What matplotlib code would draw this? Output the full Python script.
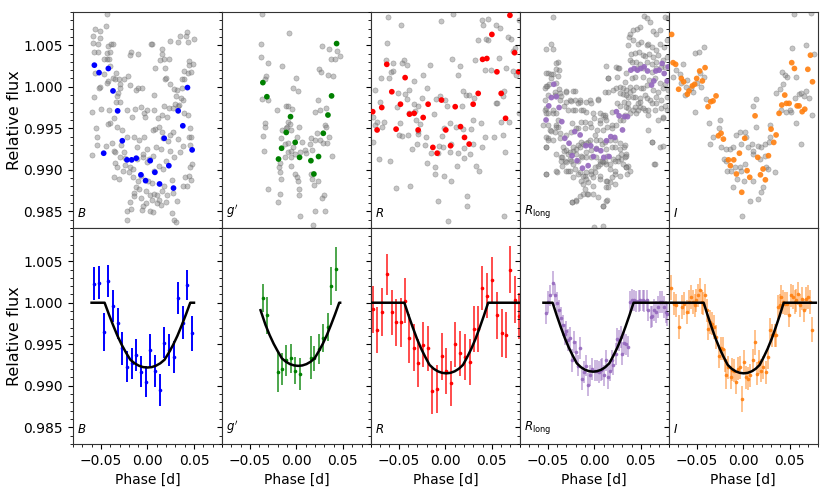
import matplotlib
matplotlib.use("Agg")
import matplotlib.pyplot as plt
from matplotlib.ticker import MultipleLocator, FormatStrFormatter

# ---------------- data: top row (raw gray points + coloured binned points) ----------------
B_gray = [(-0.043,1.0087),(-0.044,1.0073),(-0.056,1.0070),(-0.051,1.0067),(-0.059,1.0061),(-0.0586,1.0053),(-0.0536,1.0052),(-0.0511,1.0059),(-0.0421,1.0049),(-0.0392,1.0052),(-0.0375,1.0052),(-0.0529,1.0042),(-0.0579,1.0042),(-0.0439,1.0041),(-0.0403,1.0042),(-0.0439,1.0033),(-0.041,1.0033),(-0.0464,1.0033),(-0.040,1.0025),(-0.0561,1.0017),(-0.0468,1.0015),(-0.0339,1.0016),(-0.0371,1.0011),(-0.0346,1.0009),(-0.0303,1.0009),(-0.0253,1.0009),(-0.021,1.0013),(-0.0428,1.0007),(-0.0511,1.0000),(-0.0518,0.9999),(-0.0439,1.0005),(-0.0292,1.0003),(-0.0296,0.9998),(-0.0314,0.9993),(-0.0328,0.9989),(-0.0342,0.9982),(-0.0572,0.9988),(-0.060,0.9970),(-0.0504,0.9973),(-0.0418,0.9972),(-0.0296,0.9982),(-0.0224,0.9972),(-0.0131,0.9973),(-0.0167,0.9964),(-0.0038,0.9969),(-0.0357,0.9962),(-0.0407,0.9956),(-0.0421,0.9955),(-0.0332,0.9952),(-0.0278,0.9948),(-0.055,0.9950),(-0.0539,0.9940),(-0.0539,0.9930),(-0.0593,0.9918),(-0.0443,0.9929),(-0.0382,0.9932),(-0.0357,0.9923),(-0.0346,0.9921),(-0.0289,0.9930),(-0.0224,0.9939),(-0.0149,0.9939),(-0.0088,0.9936),(-0.0038,0.9940),(-0.0116,0.9928),(-0.0253,0.9922),(-0.0238,0.9914),(-0.0296,0.9915),(-0.0242,0.9906),(-0.0192,0.9904),(-0.0109,0.9913),(-0.0045,0.9916),(-0.0005,0.9910),(-0.0349,0.9908),(-0.0328,0.9903),(-0.036,0.9891),(-0.031,0.9889),(-0.0263,0.9899),(-0.0203,0.9897),(-0.0159,0.9901),(-0.0152,0.9891),(-0.0106,0.9887),(-0.0066,0.9893),(-0.0124,0.9879),(-0.0149,0.9872),(-0.0088,0.9877),(-0.002,0.9875),(0.0027,0.9870),(0.007,0.9871),(0.0106,0.9870),(0.012,0.9864),(0.0048,0.9864),(-0.0013,0.9860),(-0.007,0.9866),(-0.0149,0.9869),(-0.0192,0.9861),(-0.022,0.9851),(-0.0177,0.9853),(-0.0217,0.9840),(-0.0052,0.9856),(-0.0059,0.9852),(0.0027,0.9851),(0.0063,0.9849),(0.0106,0.9860),(0.0149,0.9858),(0.0195,0.9861),(0.0213,0.9870),(0.0274,0.9872),(0.0317,0.9862),(0.0263,0.9848),(0.0281,0.9840),(0.0306,0.9837),(0.016,0.9875),(0.0181,0.9881),(0.0263,0.9888),(0.0048,0.9884),(0.0005,0.9887),(0.0073,0.9899),(0.012,0.9905),(0.017,0.9901),(0.0199,0.9911),(0.0281,0.9915),(0.0246,0.9923),(0.0142,0.9925),(0.0088,0.9927),(0.0056,0.9917),(0.0013,0.9913),(-0.0002,0.9925),(-0.0045,0.9919),(-0.0027,0.9964),(-0.0073,0.9976),(-0.0005,0.9972),(0.007,0.9972),(0.0077,0.9949),(0.0127,0.9951),(0.0159,0.9946),(0.0167,0.9938),(0.022,0.9935),(0.0271,0.9946),(0.0242,0.9942),(0.0109,0.9962),(0.0152,0.9966),(0.0177,0.9977),(0.0213,0.9964),(0.0228,0.9974),(0.0274,0.9975),(0.0324,0.9977),(0.0339,0.9978),(0.0378,0.9984),(0.0357,0.9987),(0.0292,0.9979),(0.0314,0.9996),(0.0289,0.9997),(0.0367,0.9999),(0.0392,1.0009),(0.0375,1.0009),(0.0396,1.0019),(0.0439,1.0016),(0.045,1.0026),(0.0468,1.0018),(0.0486,1.0027),(0.0443,1.0031),(0.0414,1.0061),(0.0353,1.0061),(0.0421,1.0066),(0.0332,1.0054),(0.0432,1.0054),(0.0496,1.0058),(0.0238,1.0055),(0.0231,1.0034),(0.0177,1.0033),(0.0134,1.0032),(0.0084,1.0023),(0.0192,1.0022),(0.0192,1.0009),(0.0159,1.0040),(0.0156,1.0046),(0.0048,1.0051),(0.0203,1.0011),(0.0246,1.0003),(0.0303,0.9989),(0.0389,0.9968),(0.0439,0.9966),(0.0453,0.9950),(0.045,0.9940),(0.0464,0.9940),(0.0461,0.9930),(0.0478,0.9907),(0.0453,0.9903),(0.045,0.9892),(0.0468,0.9888),(0.0428,0.9881),(0.0403,0.9891),(0.0378,0.9880),(0.0353,0.9922),(0.0382,0.9929),(0.0332,0.9937),(-0.0099,0.9999),(-0.0127,0.9996),(-0.0056,0.9998),(0.007,0.9990),(0.0059,0.9948),(-0.0181,1.0042),(-0.0192,1.0038),(-0.0099,1.0039),(0.0038,1.0052),(-0.0192,1.0002)]

g_gray = [(-0.0364,1.0088),(-0.0081,1.0065),(-0.0375,1.0052),(-0.0378,1.0036),(-0.0303,1.0029),(-0.0156,1.0025),(-0.0328,1.0013),(-0.0335,1.0009),(-0.0002,1.0011),(-0.0034,0.9999),(0.0016,0.9995),(-0.0364,0.9985),(-0.0306,0.9984),(-0.0203,0.9972),(-0.0113,0.9977),(-0.0088,0.9977),(-0.0052,0.9973),(-0.0091,0.9957),(-0.007,0.9955),(-0.0099,0.9952),(-0.0159,0.9948),(-0.0113,0.9950),(0.0027,0.9952),(-0.0059,0.9948),(-0.0342,0.9956),(-0.0335,0.9952),(-0.0357,0.9941),(-0.0353,0.9923),(-0.0163,0.9938),(-0.0124,0.9931),(-0.0088,0.9932),(0.0002,0.9940),(-0.0038,0.9927),(0.0038,0.9922),(-0.0013,0.9919),(-0.0095,0.9922),(-0.0063,0.9916),(-0.0177,0.9908),(-0.012,0.9915),(-0.0056,0.9905),(-0.0192,0.9904),(-0.0181,0.9897),(-0.0167,0.9889),(-0.0306,0.9877),(-0.0177,0.9871),(-0.0199,0.9861),(-0.0013,0.9895),(0.0002,0.9891),(0.0013,0.9886),(0.0023,0.9877),(0.003,0.9870),(0.0041,0.9845),(0.0152,0.9895),(0.0167,0.9889),(0.0192,0.9882),(0.0231,0.9887),(0.0296,0.9870),(0.0274,0.9866),(0.0199,0.9850),(0.0306,0.9850),(0.0181,0.9834),(0.0145,0.9931),(0.017,0.9924),(0.0156,0.9938),(0.0203,0.9936),(0.0224,0.9944),(0.0253,0.9936),(0.0303,0.9954),(0.0317,0.9951),(0.0289,0.9932),(0.0324,0.9932),(0.0346,0.9940),(0.0378,0.9917),(0.0203,0.9970),(0.0249,0.9972),(0.0317,0.9974),(0.0231,0.9984),(0.0339,1.0014),(0.0389,1.0013),(0.0246,1.0021),(0.0263,1.0018),(0.0371,1.0034),(0.0418,1.0034),(0.0464,1.0037),(0.0435,1.0043),(0.0278,1.0049),(0.0353,1.0045),(0.0102,0.9920),(0.0088,0.9924),(0.0056,0.9933),(-0.0063,0.9923)]

R_gray = [(-0.0618,1.0084),(-0.0471,1.0074),(-0.0048,1.0079),(0.0084,1.0088),(0.0396,1.0080),(0.0453,1.0082),(0.0407,1.0074),(0.0547,1.0074),(0.0586,1.0071),(0.0787,1.0080),(-0.0629,1.0053),(0.0349,1.0056),(0.0435,1.0058),(0.0461,1.0056),(0.0668,1.0060),(0.0704,1.0058),(0.0747,1.0047),(0.0729,1.0043),(-0.064,1.0032),(-0.0565,1.0029),(-0.0446,1.0032),(-0.0461,1.0029),(-0.0407,1.0026),(-0.0163,1.0026),(0.0073,1.0033),(0.0159,1.0025),(0.0321,1.0032),(0.0572,1.0035),(0.0421,1.0020),(0.0493,1.0020),(0.0654,1.0022),(0.0722,1.0019),(0.0762,1.0014),(-0.0586,1.0018),(-0.0557,1.0019),(-0.0604,1.0010),(-0.069,1.0010),(-0.0335,1.0007),(-0.0235,1.0014),(0.0131,1.0014),(-0.0758,0.9996),(-0.0385,0.9996),(-0.0428,0.9991),(-0.0414,0.9985),(-0.0507,0.9993),(-0.0199,0.9998),(-0.0249,0.9986),(-0.0095,0.9985),(-0.0056,0.9989),(-0.0005,0.9984),(0.0023,0.9977),(0.0188,0.9995),(0.022,0.9990),(0.0253,0.9990),(0.0306,0.9987),(0.0177,0.9977),(0.0625,0.9995),(0.0539,0.9981),(0.0557,0.9981),(0.0618,0.9989),(0.079,0.9969),(-0.0697,0.9982),(-0.0514,0.9976),(-0.0339,0.9979),(-0.0292,0.9977),(-0.0392,0.9968),(-0.0317,0.9960),(-0.0124,0.9967),(-0.0772,0.9964),(-0.0737,0.9958),(-0.0658,0.9957),(-0.0751,0.9954),(-0.0676,0.9951),(-0.0482,0.9956),(-0.0274,0.9955),(-0.0289,0.9943),(-0.0292,0.9947),(-0.021,0.9939),(-0.040,0.9942),(-0.0496,0.9942),(-0.0461,0.9941),(-0.078,0.9934),(-0.0306,0.9931),(-0.022,0.9930),(-0.0357,0.9925),(-0.0073,0.9929),(-0.0027,0.9928),(-0.0034,0.9941),(0.0116,0.9951),(0.0045,0.9956),(0.0188,0.9949),(0.0271,0.9949),(0.0203,0.9926),(0.0292,0.9960),(0.0382,0.9956),(0.0425,0.9940),(0.0525,0.9939),(0.0593,0.9958),(0.0618,0.9942),(0.0683,0.9958),(0.0636,0.9921),(0.0131,0.9920),(0.0052,0.9922),(-0.0195,0.9908),(-0.0109,0.9903),(-0.0156,0.9920),(-0.0077,0.9920),(0.0124,0.9905),(0.0199,0.9914),(0.0267,0.9919),(0.0332,0.9905),(0.0357,0.9899),(-0.0711,0.9913),(-0.0593,0.9911),(-0.0532,0.9878),(-0.0382,0.9881),(-0.0116,0.9895),(-0.0013,0.9892),(0.0063,0.9887),(-0.0084,0.9862),(0.0238,0.9868),(0.0228,0.9857),(0.0034,0.9838),(0.0633,0.9844),(0.0299,0.9931),(0.0396,0.9927),(-0.0328,0.9971),(-0.0013,0.9950),(0.0059,0.9931)]

Rl_gray = [(-0.0443,1.0084),(-0.0468,1.0052),(-0.0514,1.0045),(-0.0439,1.0045),(-0.0389,1.0030),(-0.041,1.0029),(-0.0378,1.0020),(-0.0496,1.0016),(-0.0443,1.0015),(-0.0461,1.0011),(-0.0507,1.0001),(-0.0525,0.9998),(-0.0407,1.0004),(-0.0378,0.9997),(-0.0299,0.9995),(-0.021,0.9995),(-0.0256,0.9984),(-0.021,0.9984),(-0.0156,0.9984),(-0.0084,0.9982),(-0.0048,0.9984),(0.0041,0.9985),(0.0124,1.0025),(0.0152,1.0010),(0.0238,1.0024),(0.026,1.0022),(-0.0496,0.9990),(-0.0425,0.9990),(-0.0532,0.9984),(-0.0371,0.9984),(-0.0328,0.9977),(-0.0281,0.9972),(-0.0228,0.9972),(-0.0138,0.9972),(-0.0084,0.9970),(-0.0013,0.9968),(0.0059,0.9968),(0.0095,0.9966),(0.012,0.9964),(-0.0532,0.9972),(-0.0514,0.9968),(-0.0443,0.9968),(-0.055,0.9954),(-0.0496,0.9954),(-0.0407,0.9954),(-0.0389,0.9952),(-0.0478,0.9948),(-0.0425,0.9946),(-0.0496,0.9938),(-0.0514,0.9928),(-0.0443,0.9936),(-0.0371,0.9944),(-0.0299,0.9942),(-0.0246,0.9946),(-0.0174,0.9950),(-0.0102,0.9950),(-0.003,0.9952),(0.0059,0.9956),(0.0131,0.9960),(0.0185,0.9954),(0.0246,0.9980),(0.0281,0.9977),(0.0317,0.9982),(0.0364,0.9975),(0.0382,0.9968),(0.0435,0.9976),(0.0453,0.9968),(0.0489,0.9976),(0.0543,0.9972),(0.0579,0.9966),(0.0661,0.9980),(0.0722,0.9975),(0.074,0.9962),(0.0615,0.9934),(0.064,0.9907),(0.0704,0.9927),(0.074,0.9929),(-0.0407,0.9919),(-0.0353,0.9915),(-0.0328,0.9923),(-0.0281,0.9919),(-0.0256,0.9913),(-0.0228,0.9923),(-0.0199,0.9925),(-0.0156,0.9927),(-0.012,0.9931),(-0.0066,0.9934),(0.0023,0.9936),(0.0059,0.9936),(0.0088,0.9931),(0.0131,0.9925),(0.0185,0.9927),(0.022,0.9927),(0.0274,0.9925),(0.0317,0.9927),(0.0346,0.9919),(0.0328,0.9915),(0.0289,0.9913),(0.0256,0.9911),(0.0203,0.9913),(0.0131,0.9907),(0.0059,0.9911),(0.0023,0.9915),(-0.003,0.9915),(-0.0084,0.9915),(-0.0138,0.9917),(-0.0192,0.9919),(-0.0246,0.9911),(-0.0317,0.9911),(-0.0342,0.9905),(-0.0299,0.9899),(-0.0256,0.9899),(-0.021,0.9901),(-0.0156,0.9897),(-0.0102,0.9893),(-0.003,0.9895),(0.0005,0.9897),(0.0041,0.9905),(0.0095,0.9909),(0.0167,0.9901),(0.022,0.9895),(0.0274,0.9893),(0.031,0.9907),(0.0353,0.9895),(0.0382,0.9899),(0.0364,0.9905),(-0.0138,0.9887),(-0.0066,0.9885),(-0.0013,0.9881),(0.0059,0.9889),(0.0131,0.9887),(0.0167,0.9885),(0.0131,0.9879),(-0.0013,0.9871),(-0.0077,0.9871),(0.0041,0.9867),(-0.0235,0.9861),(-0.0192,0.9864),(0.0131,0.9863),(0.0095,0.9857),(0.022,0.9883),(-0.0521,0.9895),(-0.040,0.9897),(-0.0005,0.9831),(0.0095,0.9832),(0.0346,0.9903),
           (0.0375,1.0060),(0.0382,1.0064),(0.0418,1.0068),(0.0464,1.0070),(0.0489,1.0072),(0.0532,1.0085),(0.0561,1.0083),(0.0597,1.0078),(0.0633,1.0067),(0.0661,1.0064),(0.0704,1.0068),(0.0765,1.0084),(0.0787,1.0083),(0.0364,1.0050),(0.0418,1.0056),(0.0471,1.0052),(0.0507,1.0054),(0.0561,1.0050),(0.0579,1.0052),(0.0615,1.0048),(0.0668,1.0044),(0.0704,1.0052),(0.0747,1.0048),(0.0776,1.0056),(0.0392,1.0040),(0.0435,1.0041),(0.0482,1.0042),(0.0518,1.0038),(0.0543,1.0037),(0.0589,1.0040),(0.0633,1.0036),(0.0686,1.0038),(0.074,1.0032),(0.0776,1.0036),(0.0382,1.0032),(0.0453,1.0030),(0.0489,1.0028),(0.0561,1.0030),(0.0615,1.0028),(0.0668,1.0030),(0.0722,1.0024),(0.0758,1.0024),(0.0346,1.0016),(0.040,1.0010),(0.0435,1.0012),(0.0525,1.0012),(0.059,1.0008),(0.0651,1.0011),(0.0704,1.0004),(0.0758,1.0003),(0.0328,1.0006),(0.0382,1.0000),(0.0453,1.0000),(0.0507,0.9998),(0.0561,1.0002),(0.0633,0.9996),(0.0686,0.9994),(0.074,0.9999),(0.0794,0.9996),(0.0364,0.9988),(0.0418,0.9988),(0.0489,0.9986),(0.0543,0.9990),(0.0597,0.9984),(0.0668,0.9988),(0.0722,0.9984),(0.0776,0.9988),(0.040,1.0030),(0.0461,1.0022),(0.0525,1.0022),(0.0622,1.0018),(0.0668,1.0022),(0.0525,0.9998),(0.0471,0.9980),(0.0281,1.0000),(0.0339,0.9996),(0.031,0.9991),(0.0231,0.9999),(0.0203,0.9996),(0.0149,0.9994),(0.0758,0.9977),(0.0776,0.9972)]

Rl_gray_more = [(-0.0514,1.0016),(-0.0461,1.0015),(-0.0414,1.0021),(-0.0389,1.0013),(-0.0522,1.0001),(-0.0486,1.0003),(-0.0425,0.9994),(-0.0371,0.9992),(-0.0353,0.9989),(-0.0299,0.9994),(-0.0228,0.9995),(-0.0514,0.9974),(-0.0496,0.9968),(-0.0443,0.9972),(-0.0414,0.9968),(-0.0299,0.9982),(-0.0246,0.9983),(-0.0174,0.9981),(-0.0149,0.9982),(-0.021,0.9972),(-0.012,0.9972),(-0.003,0.9980),(0.0041,0.9984),(0.0113,0.9994),(0.0149,1.0011),(0.0246,1.0012),(0.0267,1.0023),(0.0185,0.9970),(0.0113,0.9966),(0.0059,0.9960),(-0.0005,0.9962),(-0.0048,0.9956),(-0.0102,0.9958),(-0.0138,0.9958),(-0.0192,0.9950),(-0.0235,0.9956),(-0.0389,0.9960),(-0.0407,0.9952),(-0.0461,0.9947),(-0.0522,0.9940),(-0.0496,0.9936),(-0.0514,0.9927),(-0.0371,0.9938),(-0.0335,0.9928),(-0.0306,0.9924),(-0.0342,0.9916),(-0.0353,0.9911),(-0.0263,0.9921),(-0.0228,0.9927),(-0.0174,0.9930),(-0.0138,0.9934),(-0.0084,0.9932),(-0.0048,0.9936),(0.0005,0.9942),(0.003,0.9948),(0.0095,0.9948),(0.0138,0.9952),(0.0195,0.9950),(0.0238,0.9954),(0.0274,0.9960),(0.031,0.9960),(0.0328,0.9966),(0.0339,0.9976),(0.0364,0.9980),(0.0418,0.9972),(0.0471,0.9972),(0.0525,0.9974),(0.0579,0.9972),(0.0274,0.9992),(0.031,0.9998),(0.0346,0.9990),(0.0382,0.9994),(0.0418,0.9996),(0.0435,0.9988),(0.0489,0.9982),(0.0561,0.9986),(0.0615,0.9980),(0.0651,0.9972),(0.0686,0.9960),(0.074,0.9964),(0.0579,0.9948),(0.0615,0.9934),(0.0651,0.9907),(-0.0407,0.9899),(-0.0281,0.9899),(-0.0228,0.9891),(-0.0174,0.9895),(-0.012,0.9893),(-0.0084,0.9897),(-0.003,0.9899),(0.0005,0.9903),(0.0059,0.9907),(0.0113,0.9911),(0.0167,0.9907),(0.022,0.9911),(0.0256,0.9915),(0.0292,0.9919),(0.0346,0.9917),(0.0328,0.9930),(0.0274,0.9932),(0.022,0.9936),(0.0167,0.9936),(0.0113,0.9934),(0.0023,0.9926),(-0.003,0.9924),(-0.0084,0.9921),(-0.0127,0.9915),(-0.0174,0.9911),(-0.0228,0.9907),(-0.0299,0.9909),(-0.012,0.9883),(-0.0102,0.9877),(-0.0066,0.9871),(-0.012,0.9871),(-0.0156,0.9869),(-0.0084,0.9889),(-0.0013,0.9891),(0.0059,0.9893),(0.0138,0.9887),(0.0149,0.9879),(-0.0235,0.9861),(-0.0192,0.9863),(0.0095,0.9857),(0.0138,0.9864),(-0.0522,0.9895),(0.0346,0.9903),(0.022,0.9899),(0.0185,0.9891),(0.0088,0.9911),(0.0138,0.9917)]

I_gray = [(0.0543,1.0088),(0.0733,1.0089),(-0.0522,1.0041),(-0.0475,1.0042),(-0.0421,1.0048),(-0.0647,1.0028),(-0.0665,1.0004),(-0.0611,1.0000),(-0.054,0.9994),(-0.0468,1.0017),(-0.0425,1.0012),(-0.0522,0.9970),(-0.036,0.9931),(-0.0371,0.9956),(-0.0253,0.9960),(-0.0256,0.9950),(-0.0235,0.9927),(-0.0181,0.9925),(-0.0145,0.9925),(-0.0109,0.9927),(-0.0073,0.9942),(-0.0038,0.9946),(0.0016,0.9946),(0.0034,0.9940),(-0.0027,0.9931),(0.0052,0.9927),(0.0095,0.9931),(0.0142,0.9985),(0.0106,0.9977),(0.0142,0.9952),(0.016,0.9929),(0.0195,0.9928),(0.0231,0.9931),(0.0278,0.9934),(0.0292,0.9939),(0.0285,0.9954),(0.0357,0.9993),(0.0392,0.9997),(0.0428,1.0003),(0.0446,1.0014),(0.0414,1.0018),(0.0471,1.0012),(0.0529,1.0047),(0.0572,1.0012),(0.060,0.9991),(0.0625,0.9992),(0.0651,0.9989),(0.0672,0.9995),(0.0708,0.9986),(0.074,0.9966),(0.0758,1.0040),(0.0672,1.0050),(0.0554,0.9986),(0.0518,0.9970),(0.050,0.9972),(0.0464,0.9970),(0.041,0.9972),(-0.0038,0.9903),(-0.0091,0.9903),(-0.0066,0.9889),(-0.002,0.9899),(0.0016,0.9907),(0.0106,0.9919),(0.0177,0.9913),(0.0249,0.9903),(0.0267,0.9901),(0.0342,0.9897),(0.0213,0.9879),(0.0195,0.9873),(0.016,0.9865),(0.0077,0.9862),(-0.0013,0.9844),(-0.0181,0.9911),(-0.0177,0.9899),(-0.0127,0.9899),(-0.021,0.9913),(-0.0109,0.9879),(0.0009,0.9887),(-0.0324,0.9940),(0.0625,0.9931),(0.0565,0.9956),(0.0106,0.9887),(0.0231,0.9917),(0.0106,0.9923),(-0.072,1.0020),(-0.068,1.0015),(-0.060,1.0008),(-0.056,0.9998),(-0.050,1.0005),(-0.045,1.0000),(-0.040,0.9985),(-0.075,1.0012),(-0.063,0.9990)]

B_bin_phase = [-0.057,-0.052,-0.047,-0.042,-0.037,-0.032,-0.027,-0.022,-0.017,-0.012,-0.007,-0.002,0.003,0.008,0.013,0.018,0.023,0.028,0.033,0.038,0.043,0.048]
B_bin_flux = [1.0026,1.0017,0.9920,1.0022,0.9995,0.9971,0.9935,0.9912,0.9912,0.9914,0.9894,0.9887,0.9911,0.9897,0.9883,0.9938,0.9905,0.9878,0.9971,0.9953,0.9999,0.9924]

g_bin_phase = [0.0432,-0.036,-0.0317,0.0378,0.0339,-0.0063,-0.0109,0.0289,-0.0013,-0.0159,-0.0192,0.0034,0.0156,0.0238,0.0188]
g_bin_flux = [1.0052,1.0005,0.9988,0.9989,0.9966,0.9964,0.9945,0.9944,0.9933,0.9926,0.9913,0.9915,0.9911,0.9916,0.9895]

R_bin = [(0.0694,1.0086),(0.050,1.0063),(0.0744,1.0041),(0.040,1.0033),(0.0446,1.0034),(-0.0629,1.0027),(0.0554,1.0018),(0.0787,1.0018),(-0.0432,1.0011),(-0.0575,0.9994),(0.060,0.9992),(0.0353,0.9992),(-0.0041,0.9984),(-0.078,0.9970),(-0.0683,0.9975),(-0.0482,0.9979),(-0.0185,0.9979),(0.0106,0.9976),(0.0299,0.9979),(-0.0385,0.9967),(-0.0335,0.9968),(-0.0238,0.9963),(0.0647,0.9962),(-0.0733,0.9948),(-0.0529,0.9949),(-0.0292,0.9948),(0.0005,0.9948),(0.0163,0.9952),(0.0206,0.9939),(0.0256,0.9931),(-0.0134,0.9927),(0.0056,0.9929),(-0.0088,0.9920)]

Rl_bin = [(-0.0435,1.0003),(-0.0461,0.9987),(-0.0407,0.9988),(-0.0489,0.9977),(-0.0378,0.9975),(-0.0518,0.9960),(-0.0349,0.9958),(-0.0317,0.9938),(-0.021,0.9946),(-0.0152,0.9942),(-0.0271,0.9932),(-0.0091,0.9929),(-0.0238,0.9917),(-0.0185,0.9911),(-0.0127,0.9902),(-0.0066,0.9905),(-0.0038,0.9929),(0.0023,0.9925),(0.007,0.9923),(-0.0009,0.9916),(0.0102,0.9915),(0.0159,0.9916),(0.0131,0.9935),(0.0177,0.9940),(0.022,0.9939),(0.0303,0.9948),(0.0238,0.9970),(0.0267,0.9965),(0.0324,0.9964),(0.0357,0.9964),(0.0392,1.0020),(0.0428,1.0022),(0.0464,1.0020),(0.050,1.0022),(0.0536,1.0024),(0.0572,1.0019),(0.0615,1.0002),(0.064,1.0007),(0.0661,1.0019),(0.0697,1.0020),(0.0729,1.0028),(0.0751,1.0016),(0.0783,1.0007),(0.0794,1.0024)]

I_bin = [(-0.0769,1.0063),(-0.0754,1.0029),(-0.0726,1.0027),(-0.0694,0.9997),(-0.0665,1.0010),(-0.064,1.0006),(-0.060,0.9991),(-0.0582,0.9995),(-0.0547,1.0001),(-0.0522,1.0003),(-0.050,1.0010),(-0.0468,1.0019),(-0.0439,1.0007),(-0.041,1.0023),(-0.0378,0.9976),(-0.0349,0.9982),(-0.0324,0.9983),(-0.0292,0.9989),(-0.0267,0.9941),(-0.0238,0.9944),(-0.0213,0.9937),(-0.0159,0.9912),(-0.0138,0.9905),(-0.0102,0.9912),(-0.0073,0.9895),(-0.0041,0.9920),(-0.0016,0.9873),(0.0016,0.9938),(0.0041,0.9899),(0.007,0.9891),(0.0127,0.9965),(0.0156,0.9915),(0.0185,0.9894),(0.0213,0.9901),(0.0238,0.9888),(0.0271,0.9917),(0.0299,0.9949),(0.0328,0.9933),(0.0353,0.9942),(0.0385,0.9968),(0.0414,0.9978),(0.0446,0.9990),(0.0464,0.9980),(0.0493,0.9980),(0.0521,1.0029),(0.055,1.0022),(0.0579,0.9977),(0.060,0.9977),(0.0633,0.9970),(0.0661,0.9973),(0.0694,1.0021),(0.0722,1.0038),(0.0744,1.0006)]

# ---------------- data: bottom row (detrended binned points with errors) ----------------
B_phase = [-0.057,-0.052,-0.047,-0.042,-0.037,-0.032,-0.027,-0.022,-0.017,-0.012,-0.007,-0.002,0.003,0.008,0.013,0.018,0.023,0.028,0.033,0.038,0.043,0.048]
B_flux = [1.0023,1.0024,0.9965,1.0026,0.9996,0.9975,0.9945,0.9923,0.9927,0.9937,0.9917,0.9905,0.9943,0.9918,0.9895,0.9952,0.9943,0.9935,1.0006,0.9976,1.0021,0.9963]
B_err = [0.0020,0.0020,0.0023,0.0019,0.0019,0.0019,0.0020,0.0019,0.0019,0.0019,0.0019,0.0019,0.0019,0.0019,0.0019,0.0019,0.0019,0.0019,0.0019,0.0020,0.0018,0.0021]

g_phase = [-0.036,-0.0317,-0.0195,-0.0159,-0.0109,-0.0059,-0.0013,0.0038,0.0156,0.0188,0.0238,0.0289,0.0339,0.0375,0.0425]
g_flux = [1.0006,0.99847,0.99164,0.9920,0.99305,0.99329,0.99184,0.99144,0.99337,0.99333,0.99441,0.99578,0.99707,1.00197,1.00406]
g_err = [0.0017,0.0022,0.0024,0.0019,0.0019,0.0017,0.0016,0.0019,0.0026,0.0015,0.0018,0.0017,0.0017,0.0023,0.0026]

R_phase = [-0.0776,-0.0729,-0.0683,-0.0629,-0.0575,-0.0525,-0.0478,-0.0432,-0.0385,-0.0339,-0.0289,-0.0238,-0.0185,-0.0138,-0.0088,-0.0041,0.0009,0.0056,0.0106,0.0156,0.021,0.026,0.0306,0.0349,0.0399,0.0446,0.050,0.055,0.0604,0.0651,0.0697,0.0744,0.079]
R_flux = [0.9992,0.99674,0.99887,1.00342,0.99883,0.99763,0.99763,1.00024,0.9957,0.99461,0.99276,0.99494,0.99449,0.98943,0.98959,0.99353,0.9918,0.99031,0.99502,0.99389,0.99345,0.99285,0.99682,0.99682,1.00177,1.00084,1.00277,0.99847,0.99634,0.9961,1.00398,1.00036,0.99843]
R_err = [0.0028,0.0028,0.0029,0.0025,0.0027,0.0028,0.0029,0.0027,0.0029,0.0028,0.0029,0.0027,0.0027,0.0028,0.0029,0.0028,0.0028,0.0027,0.0027,0.0027,0.0028,0.0028,0.0028,0.0028,0.0027,0.0027,0.0027,0.0028,0.0029,0.0028,0.0028,0.0028,0.0028]

Rl_phase = [-0.0521,-0.0496,-0.0471,-0.0443,-0.0418,-0.0396,-0.0378,-0.0357,-0.0335,-0.0317,
            -0.0299,-0.0281,-0.0256,-0.0235,-0.0217,-0.0199,-0.0177,-0.0156,-0.0131,-0.0109,
            -0.0084,-0.0066,-0.0041,-0.002,0.0005,0.0027,0.0048,0.007,0.0088,0.0106,
            0.0127,0.0149,0.0167,0.0188,0.0206,0.0228,0.0246,0.0267,0.0285,0.0303,
            0.0324,0.0346,0.0367,0.0389,0.041,0.0432,0.0453,0.0475,0.0496,0.0518,
            0.0539,0.0561,0.0582,0.0604,0.0625,0.0643,0.0665,0.0683,0.0704,0.0729,
            0.0747,0.0766,0.078]
Rl_flux = [0.99875,1.00008,1.00088,1.00237,1.00096,0.99996,0.99908,0.99819,0.99727,0.99618,
           0.99654,0.99554,0.99578,0.99305,0.99526,0.99405,0.99244,0.99457,0.99084,0.99164,
           0.99244,0.99015,0.99124,0.99204,0.99184,0.99184,0.99164,0.99192,0.99204,0.99124,
           0.99305,0.99104,0.99184,0.99305,0.99256,0.99385,0.99566,0.99546,0.99586,0.99385,
           0.99514,0.99498,0.99473,1.00008,1.00036,1.00028,1.00016,1.0002,1.00028,1.00028,
           1.0002,1.00028,0.99916,0.99827,0.99835,0.99916,0.99887,0.99948,1.00008,1.00008,
           0.99948,0.99887,0.99859]
Rl_err = [0.0013,0.0013,0.0013,0.0014,0.0013,0.0013,0.0013,0.0013,0.0013,0.0013,
          0.0013,0.0013,0.0013,0.0014,0.0013,0.0013,0.0013,0.0013,0.0014,0.0013,
          0.0013,0.0014,0.0013,0.0013,0.0013,0.0013,0.0013,0.0013,0.0013,0.0013,
          0.0013,0.0014,0.0013,0.0013,0.0013,0.0013,0.0013,0.0013,0.0013,0.0014,
          0.0013,0.0013,0.0013,0.0013,0.0013,0.0013,0.0013,0.0013,0.0013,0.0013,
          0.0013,0.0013,0.0013,0.0013,0.0013,0.0013,0.0013,0.0013,0.0013,0.0013,
          0.0013,0.0013,0.0014]

I_phase = [-0.0779,-0.0747,-0.0719,-0.069,-0.0661,-0.0636,-0.0604,-0.0582,-0.0561,-0.0539,
           -0.0518,-0.0504,-0.0486,-0.0468,-0.0446,-0.0432,-0.041,-0.0389,-0.0375,-0.0353,
           -0.0332,-0.0314,-0.0289,-0.0263,-0.0242,-0.0217,-0.0195,-0.0181,-0.016,-0.0134,
           -0.0116,-0.0095,-0.0073,-0.0056,-0.0038,-0.0009,0.0013,0.0034,0.0056,0.0077,
           0.0106,0.0127,0.0149,0.017,0.0195,0.0213,0.0242,0.0271,0.0292,0.0314,
           0.0339,0.0357,0.0378,0.0392,0.0407,0.0428,0.0446,0.0471,0.0493,0.0514,
           0.0536,0.0554,0.0572,0.0593,0.0615,0.0636,0.0654,0.0679,0.0701,0.0722,
           0.0744]
I_flux = [1.00181,0.99988,0.99968,0.99707,0.99948,0.99988,0.99887,1.00008,1.00068,1.00008,
          0.99968,1.00028,1.00088,1.00149,1.00008,0.99988,1.00088,0.99908,0.99686,0.99767,
          0.99747,0.99707,0.99586,0.99353,0.99453,0.99445,0.99305,0.99124,0.99224,0.99104,
          0.99192,0.99184,0.99043,0.99204,0.99224,0.98842,0.99285,0.99104,0.99084,0.99124,
          0.99305,0.99526,0.99144,0.99285,0.99184,0.99224,0.99164,0.99345,0.99674,0.99606,
          0.99606,0.99606,0.99948,0.99968,1.00068,1.00008,0.99988,0.99988,0.99847,1.00088,
          1.00068,1.00008,1.00028,1.00109,0.99968,1.00048,0.99908,1.00048,1.00068,1.00008,
          0.99674]
I_err = [0.0015,0.0014,0.0014,0.0014,0.0014,0.0014,0.0014,0.0014,0.0014,0.0014,
         0.0014,0.0014,0.0014,0.0015,0.0014,0.0014,0.0014,0.0014,0.0014,0.0014,
         0.0014,0.0014,0.0014,0.0014,0.0014,0.0014,0.0014,0.0016,0.0014,0.0014,
         0.0014,0.0014,0.0014,0.0014,0.0014,0.0016,0.0014,0.0014,0.0014,0.0014,
         0.0014,0.0015,0.0014,0.0014,0.0014,0.0014,0.0014,0.0014,0.0014,0.0014,
         0.0014,0.0014,0.0014,0.0014,0.0014,0.0014,0.0014,0.0014,0.0014,0.0014,
         0.0014,0.0014,0.0014,0.0014,0.0014,0.0014,0.0014,0.0014,0.0014,0.0014,
         0.0015]

# ---------------- data: transit models ----------------
B_mod_phase = [-0.060,-0.046,-0.0414,-0.0368,-0.0322,-0.0276,-0.0230,-0.0184,-0.0138,-0.0092,-0.0046,0.0,
               0.0046,0.0092,0.0138,0.0184,0.0230,0.0276,0.0322,0.0368,0.0414,0.046,0.050]
B_mod_flux = [1.0,1.0,0.99860,0.99727,0.99602,0.99493,0.99399,0.99314,0.99271,0.99242,0.99225,0.99220,
              0.99225,0.99242,0.99271,0.99314,0.99399,0.99493,0.99602,0.99727,0.99860,1.0,1.0]
g_mod_phase = [-0.0385,-0.0332,-0.0288,-0.0244,-0.0200,-0.0156,-0.0112,-0.0068,-0.0024,0.0020,
               0.0064,0.0108,0.0152,0.0196,0.0240,0.0284,0.0328,0.0372,0.0416,0.0460,0.0470]
g_mod_flux = [0.99910,0.99734,0.99612,0.99506,0.99415,0.99331,0.99289,0.99261,0.99245,0.99240,
              0.99245,0.99261,0.99289,0.99331,0.99415,0.99506,0.99612,0.99734,0.99863,1.0,1.0]
R_mod_phase = [-0.080,-0.044,-0.0395,-0.035,-0.0305,-0.026,-0.0215,-0.017,-0.0125,-0.008,-0.0035,0.001,
               0.0055,0.010,0.0145,0.019,0.0235,0.028,0.0325,0.037,0.0415,0.046,0.080]
R_mod_flux = [1.0,1.0,0.99847,0.99703,0.99567,0.99448,0.99346,0.99252,0.99205,0.99174,0.99156,0.99150,
              0.99156,0.99174,0.99205,0.99252,0.99346,0.99448,0.99567,0.99703,0.99847,1.0,1.0]
Rl_mod_phase = [-0.0546,-0.0448,-0.04045,-0.0361,-0.03175,-0.0274,-0.02305,-0.0187,-0.01435,-0.0100,-0.00565,-0.0013,
                0.00305,0.0074,0.01175,0.0161,0.02045,0.0248,0.02915,0.0335,0.03785,0.0422,0.080]
Rl_mod_flux = [1.0,1.0,0.99851,0.99710,0.99577,0.99461,0.99361,0.99270,0.99224,0.99193,0.99176,0.99170,
               0.99176,0.99193,0.99224,0.99270,0.99361,0.99461,0.99577,0.99710,0.99851,1.0,1.0]
I_mod_phase = [-0.080,-0.0425,-0.0382,-0.0339,-0.0296,-0.0253,-0.021,-0.0167,-0.0124,-0.0081,-0.0038,0.0005,
               0.0048,0.0091,0.0134,0.0177,0.022,0.0263,0.0306,0.0349,0.0392,0.0435,0.078]
I_mod_flux = [1.0,1.0,0.99847,0.99703,0.99567,0.99448,0.99346,0.99252,0.99205,0.99174,0.99156,0.99150,
              0.99156,0.99174,0.99205,0.99252,0.99346,0.99448,0.99567,0.99703,0.99847,1.0,1.0]

band_labels = [r"$B$", r"$g'$", r"$R$", r"$R_{\rm long}$", r"$I$"]
colors = ["#0000ff", "#008000", "#ff0000", "#9467bd", "#ff7f0e"]


def unzip(pairs):
    return [p[0] for p in pairs], [p[1] for p in pairs]


gray_sets = [unzip(B_gray), unzip(g_gray), unzip(R_gray), unzip(Rl_gray + Rl_gray_more), unzip(I_gray)]
bin_sets = [(B_bin_phase, B_bin_flux), (g_bin_phase, g_bin_flux), unzip(R_bin), unzip(Rl_bin), unzip(I_bin)]
fit_sets = [(B_phase, B_flux, B_err), (g_phase, g_flux, g_err), (R_phase, R_flux, R_err),
            (Rl_phase, Rl_flux, Rl_err), (I_phase, I_flux, I_err)]
mod_sets = [(B_mod_phase, B_mod_flux), (g_mod_phase, g_mod_flux), (R_mod_phase, R_mod_flux),
            (Rl_mod_phase, Rl_mod_flux), (I_mod_phase, I_mod_flux)]
err_alpha = [1.0, 0.7, 0.7, 0.6, 0.6]
pt_alpha = [1.0, 1.0, 1.0, 0.9, 0.9]
elw = [1.4, 1.4, 1.4, 1.1, 1.1]

fig, axes = plt.subplots(2, 5, figsize=(8.31, 4.90), dpi=100, sharex=True, sharey=True)
fig.subplots_adjust(left=0.0878, right=0.984, top=0.9755, bottom=0.094, wspace=0, hspace=0)

for i in range(5):
    ax_t = axes[0, i]
    ax_b = axes[1, i]
    gx, gy = gray_sets[i]
    ax_t.scatter(gx, gy, s=14, facecolor="#808080", edgecolor="#505050", linewidths=0.4, alpha=0.45, zorder=2)
    bx, by = bin_sets[i]
    ax_t.scatter(bx, by, s=17, color=colors[i], edgecolor="none", alpha=pt_alpha[i], zorder=3)

    fx, fy, fe = fit_sets[i]
    ecol = matplotlib.colors.to_rgba(colors[i], err_alpha[i])
    mcol = matplotlib.colors.to_rgba(colors[i], pt_alpha[i])
    ax_b.errorbar(fx, fy, yerr=fe, fmt="o", ms=2.6, color=mcol, ecolor=ecol,
                  elinewidth=elw[i], capsize=0, mew=0, zorder=2)
    mx, my = mod_sets[i]
    ax_b.plot(mx, my, color="black", lw=1.8, zorder=4, solid_joinstyle="round")

    for ax in (ax_t, ax_b):
        ax.text(0.03, 0.035, band_labels[i], transform=ax.transAxes, fontsize=8.5,
                ha="left", va="bottom")

ax0 = axes[0, 0]
ax0.set_xlim(-0.08, 0.08)
ax0.set_ylim(0.983, 1.009)
ax0.xaxis.set_major_locator(MultipleLocator(0.05))
ax0.xaxis.set_minor_locator(MultipleLocator(0.01))
ax0.yaxis.set_major_locator(MultipleLocator(0.005))
ax0.yaxis.set_minor_locator(MultipleLocator(0.001))
ax0.yaxis.set_major_formatter(FormatStrFormatter("%.3f"))

for ax in axes.flat:
    ax.tick_params(axis="both", which="major", labelsize=10, length=3.5, width=0.8)
    ax.tick_params(axis="both", which="minor", length=2, width=0.6)
    for sp in ax.spines.values():
        sp.set_color("#333333")

for r in range(2):
    axes[r, 0].set_ylabel("Relative flux", fontsize=11.5, labelpad=1.0)
for c in range(5):
    axes[1, c].set_xlabel("Phase [d]", fontsize=10)

fig.savefig("out.png", dpi=100)
